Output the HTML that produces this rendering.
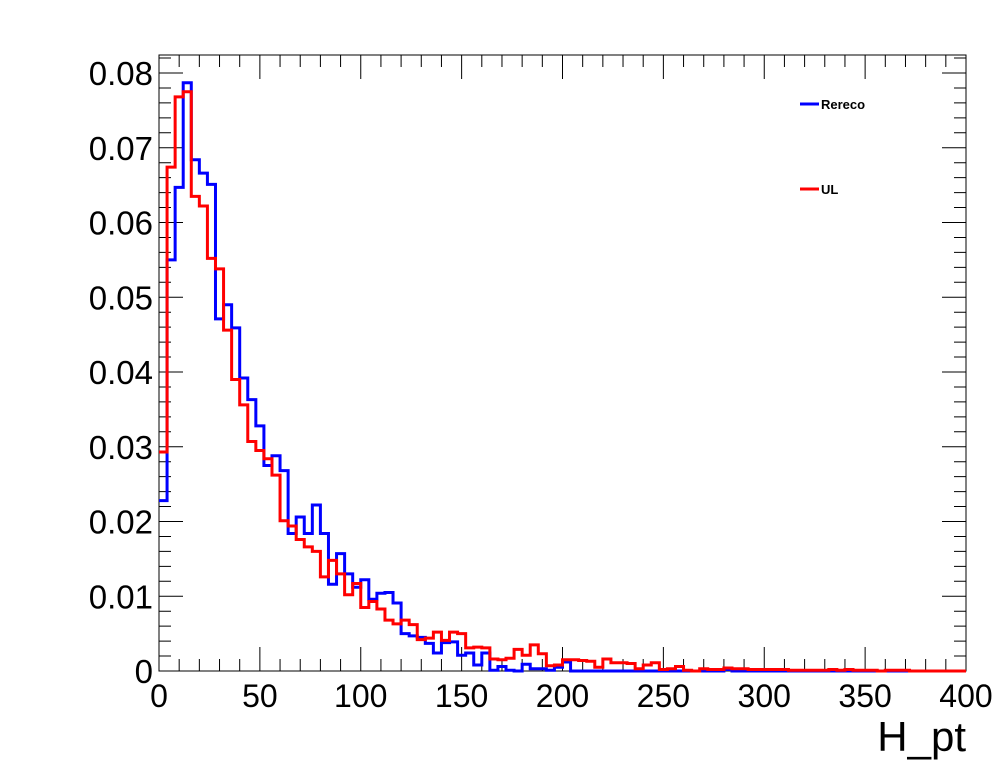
<!DOCTYPE html>
<html><head><meta charset="utf-8"><style>
body{margin:0;background:#fff;}
svg{display:block;font-family:"Liberation Sans",sans-serif;}
</style></head><body>
<svg id="chart" width="996" height="772" xmlns="http://www.w3.org/2000/svg"></svg>
<script>
const xTicks=[0,50,100,150,200,250,300,350,400];
const yTicks=[0,0.01,0.02,0.03,0.04,0.05,0.06,0.07,0.08];
const yTickLabels=["0","0.01","0.02","0.03","0.04","0.05","0.06","0.07","0.08"];
const binWidth=4;
const rereco=[.0228,.055,.0647,.0787,.0684,.0666,.0651,.0471,.049,.0459,.0392,.0363,.0328,.0275,.0288,.0268,.0184,.0206,.0184,.0222,.0184,.0116,.0157,.013,.0112,.0122,.0096,.0104,.0105,.0091,.005,.0047,.0045,.0037,.0024,.0038,.0039,.0021,.0024,.0008,.0024,.0001,.0006,.0001,0,.0009,.0003,.0003,.0001,.0005,.0012,0,0,0,0,0,0,0,0,0,0,0,0,0,0,0,0,0,0,0,.0002,0,0,0,0,0,0,0,0,0,0,0,0,0,0,0,0,0,0,0,0,0,0,0,0,0,0,0,0,0];
const ul=[.0293,.0674,.0768,.0775,.0635,.0622,.0552,.0538,.0456,.039,.0356,.0307,.0295,.0284,.0262,.0201,.0194,.0176,.0166,.016,.0126,.0148,.013,.0102,.0117,.0085,.0093,.0083,.0068,.0063,.0068,.0062,.0042,.0044,.0052,.0041,.0052,.005,.0031,.0032,.0031,.0016,.0015,.0017,.0029,.0021,.0035,.0023,.0007,.0008,.0015,.0015,.0014,.0013,.0005,.0016,.0011,.0011,.001,.0003,.0008,.0011,.0002,.0003,.0006,.0001,0,.0003,.0002,.0002,.0004,.0003,.0003,.0002,.0002,.0002,.0002,.0002,.0001,.0001,.0001,.0001,.0001,.0002,.0001,.0002,.0001,.0001,.0001,0,.0001,.0001,.0001,0,0,0,0,0,0,0];
const L=159,R=966,T=55,B=671;
const xs=v=>L+(v/400)*(R-L);
const ys=v=>B-(v/0.08)*(B-73);
const NS="http://www.w3.org/2000/svg";
const svg=document.getElementById('chart');
function mk(t,a){const e=document.createElementNS(NS,t);for(const k in a)e.setAttribute(k,a[k]);svg.appendChild(e);return e;}
const frame=mk('rect',{x:L,y:T,width:R-L,height:B-T,fill:'none',stroke:'#000','stroke-width':1});


let td='';
for(let v=0;v<=400;v+=10){const x=xs(v);const len=(v%50===0)?24:12;td+=`M${x},${B}V${B-len}M${x},${T}V${T+len}`;}
for(let i=0;i<=41;i++){const v=i*0.002;const y=ys(v);if(y<T)continue;const len=(i%5===0)?24:12;td+=`M${L},${y}H${L+len}M${R},${y}H${R-len}`;}
const ticks=mk('path',{d:td,stroke:'#000','stroke-width':1,fill:'none'});


xTicks.forEach(v=>{const t=mk('text',{x:xs(v),y:707,'font-size':32,'text-anchor':'middle'});t.textContent=String(v);

});
yTicks.forEach((v,i)=>{const t=mk('text',{x:153,y:ys(v)+12,'font-size':33,'text-anchor':'end'});t.textContent=yTickLabels[i];

});
const xt=mk('text',{x:966,y:751,'font-size':42,'text-anchor':'end'});xt.textContent='H_pt';


function hist(arr,color,name){
  let d=`M${xs(0)},${ys(arr[0])}`;
  arr.forEach((v,i)=>{d+=`V${ys(v)}H${xs((i+1)*binWidth)}`;});
  const p=mk('path',{d:d,stroke:color,'stroke-width':3,fill:'none'});
  
  
}
hist(rereco,'#0000ff','rereco-histogram');
hist(ul,'#ff0000','ul-histogram');
[['Rereco','#0000ff',104],['UL','#ff0000',189]].forEach(([lab,c,y])=>{
  const l=mk('line',{x1:800,x2:819,y1:y,y2:y,stroke:c,'stroke-width':3});
  
  
  const t=mk('text',{x:821,y:y+5,'font-size':13,'font-weight':'bold'});t.textContent=lab;
  
  
});
</script>
</body></html>
